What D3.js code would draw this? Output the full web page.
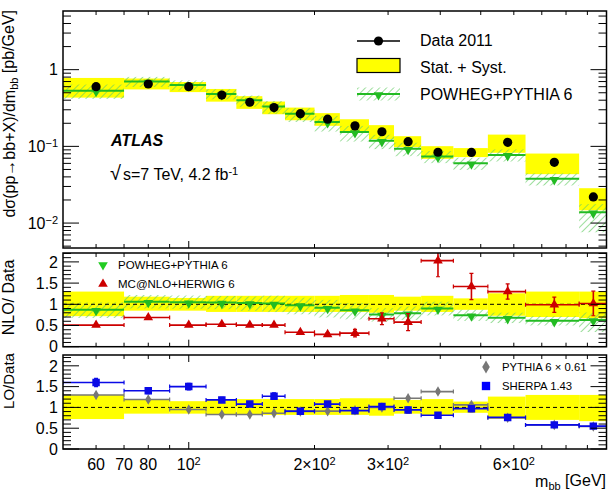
<!DOCTYPE html>
<html>
<head>
<meta charset="utf-8">
<script src="https://cdn.jsdelivr.net/npm/d3@7"></script>
<style>
body { margin: 0; background: #fff; }
text { font-family: "Liberation Sans", Arial, Helvetica, sans-serif; fill: #000; }
</style>
</head>
<body>
<svg id="chart" width="615" height="495"></svg>
<script>
// bin edges of m_bb [GeV]
var binEdges = [50, 70, 90, 110, 130, 150, 170, 200, 230, 270, 310, 360, 430, 520, 640, 860, 1000];

// top panel: cross section [pb/GeV]
var dataValues   = [0.60, 0.65, 0.60, 0.467, 0.376, 0.32, 0.267, 0.226, 0.185, 0.155, 0.115, 0.0838, 0.0833, 0.113, 0.062, 0.0219];
var dataErrUp    = [0.30, 0.18, 0.15, 0.20, 0.20, 0.20, 0.20, 0.20, 0.22, 0.22, 0.18, 0.20, 0.14, 0.26, 0.30, 0.30];
var dataErrDown  = [0.28, 0.15, 0.15, 0.18, 0.18, 0.18, 0.18, 0.18, 0.18, 0.20, 0.15, 0.18, 0.13, 0.27, 0.30, 0.33];
var powhegValues = [0.533, 0.70, 0.63, 0.482, 0.40, 0.33, 0.267, 0.208, 0.154, 0.118, 0.093, 0.0737, 0.0603, 0.0774, 0.0377, 0.0138];
var powhegErrUp  = [0.20, 0.15, 0.15, 0.15, 0.15, 0.18, 0.18, 0.20, 0.20, 0.20, 0.20, 0.18, 0.18, 0.18, 0.18, 0.28];
var powhegErrDown= [0.22, 0.15, 0.15, 0.15, 0.18, 0.20, 0.22, 0.25, 0.25, 0.22, 0.20, 0.18, 0.18, 0.18, 0.18, 0.45];

// middle panel: NLO / Data
var powhegRatio  = [0.87, 1.06, 1.05, 1.04, 1.03, 1.02, 0.98, 0.92, 0.86, 0.76, 0.79, 0.90, 0.74, 0.68, 0.61, 0.63];
var mcnloRatio   = [0.51, 0.69, 0.51, 0.53, 0.51, 0.51, 0.34, 0.29, 0.32, 0.66, 0.58, 2.03, 1.42, 1.30, 0.99, 1.02];
var mcnloErr     = [0.02, 0.03, 0.02, 0.03, 0.03, 0.03, 0.03, 0.04, 0.09, 0.14, 0.20, 0.38, 0.31, 0.18, 0.18, 0.29];

// bottom panel: LO / Data
var pythiaRatio  = [1.30, 1.19, 0.95, 0.83, 0.83, 0.86, 0.90, 0.91, 0.93, 1.00, 1.22, 1.38, 1.06, 0.75, 0.58, 0.54];
var pythiaErr    = [0.03, 0.03, 0.03, 0.02, 0.02, 0.02, 0.02, 0.02, 0.02, 0.03, 0.03, 0.04, 0.04, 0.03, 0.03, 0.03];
var sherpaRatio  = [1.60, 1.40, 1.50, 1.18, 1.08, 1.27, 0.91, 1.08, 0.92, 1.02, 0.94, 0.81, 0.97, 0.76, 0.58, 0.55];
var sherpaErr    = [0.10, 0.07, 0.08, 0.06, 0.06, 0.08, 0.04, 0.06, 0.05, 0.07, 0.07, 0.06, 0.07, 0.04, 0.04, 0.05];

var xTickValues = [60, 70, 80, 100, 200, 300, 600];
var xTickLabels = ["60", "70", "80", "10^2", "2\u00d710^2", "3\u00d710^2", "6\u00d710^2"];
var yTopTickValues = [0.01, 0.1, 1];
var yTopTickLabels = ["10^\u22122", "10^\u22121", "1"];
var ratioTickValues = [0, 0.5, 1, 1.5, 2];
var ratioTickLabels = ["0", "0.5", "1", "1.5", "2"];

var svg = d3.select("#chart");
var left = 63, right = 606.5;
var topP = [11, 248], midP = [253, 346.7], botP = [355, 449];

var x = d3.scaleLog().domain([50, 1000]).range([left, right]);
var yTop = d3.scaleLog().domain([0.00473, 5.82]).range([topP[1], topP[0]]);
var yMid = d3.scaleLinear().domain([0, 2.21]).range([midP[1], midP[0]]);
var yBot = d3.scaleLinear().domain([0, 2.26]).range([botP[1], botP[0]]);

var bins = d3.range(binEdges.length - 1).map(function(i) {
    return { i: i, lo: binEdges[i], hi: binEdges[i + 1], c: (binEdges[i] + binEdges[i + 1]) / 2 };
});

var GREEN = "#22bb22", HATCH = "#66cc66", YELLOW = "#ffff00", RED = "#cc0000", BLUE = "#0a0ae6", GREY = "#777777";

var defs = svg.append("defs");
var pat = defs.append("pattern")
    .attr("id", "hatch")
    .attr("patternUnits", "userSpaceOnUse")
    .attr("width", 5).attr("height", 5)
    .attr("patternTransform", "rotate(45)");
pat.append("line")
    .attr("x1", 0).attr("y1", 0).attr("x2", 0).attr("y2", 5)
    .attr("stroke", HATCH).attr("stroke-width", 1.3);

function addClip(id, p) {
    defs.append("clipPath").attr("id", id)
        .append("rect").attr("x", left).attr("y", p[0]).attr("width", right - left).attr("height", p[1] - p[0]);
}
addClip("clipTop", topP);
addClip("clipMid", midP);
addClip("clipBot", botP);

// text with ^sup support
function richText(sel, label, supSize) {
    var parts = label.split("^");
    sel.append("tspan").text(parts[0]);
    if (parts.length > 1) {
        sel.append("tspan").attr("dy", "-0.45em").attr("font-size", supSize).text(parts[1]);
    }
}

function drawFrame(p, yScale, yMajor, yMinor, yLabels, yLabelVals, showX) {
    var g = svg.append("g");
    var y0 = p[0], y1 = p[1];
    // x ticks top and bottom
    var xMinor = [60, 70, 80, 90, 200, 300, 400, 500, 600, 700, 800, 900];
    xMinor.forEach(function(v) {
        g.append("line").attr("x1", x(v)).attr("x2", x(v)).attr("y1", y1).attr("y2", y1 - 4).attr("stroke", "#000");
        g.append("line").attr("x1", x(v)).attr("x2", x(v)).attr("y1", y0).attr("y2", y0 + 4).attr("stroke", "#000");
    });
    [100].forEach(function(v) {
        g.append("line").attr("x1", x(v)).attr("x2", x(v)).attr("y1", y1).attr("y2", y1 - 7).attr("stroke", "#000");
        g.append("line").attr("x1", x(v)).attr("x2", x(v)).attr("y1", y0).attr("y2", y0 + 7).attr("stroke", "#000");
    });
    yMajor.forEach(function(v) {
        g.append("line").attr("x1", left).attr("x2", left + 16).attr("y1", yScale(v)).attr("y2", yScale(v)).attr("stroke", "#000");
        g.append("line").attr("x1", right).attr("x2", right - 16).attr("y1", yScale(v)).attr("y2", yScale(v)).attr("stroke", "#000");
    });
    yMinor.forEach(function(v) {
        g.append("line").attr("x1", left).attr("x2", left + 8).attr("y1", yScale(v)).attr("y2", yScale(v)).attr("stroke", "#000");
        g.append("line").attr("x1", right).attr("x2", right - 8).attr("y1", yScale(v)).attr("y2", yScale(v)).attr("stroke", "#000");
    });
    yLabelVals.forEach(function(v, k) {
        var t = g.append("text")
            .attr("x", left - 5).attr("y", yScale(v)).attr("dy", "0.36em")
            .attr("text-anchor", "end").style("font-size", "16px");
        richText(t, yLabels[k], "11px");
    });
    if (showX) {
        xTickValues.forEach(function(v, k) {
            var t = g.append("text")
                .attr("x", x(v)).attr("y", 470)
                .attr("text-anchor", "middle").style("font-size", "16px");
            richText(t, xTickLabels[k], "11px");
        });
    }
    g.append("rect").attr("x", left).attr("y", y0).attr("width", right - left).attr("height", y1 - y0)
        .attr("fill", "none").attr("stroke", "#000").attr("stroke-width", 1.5);
}

// ---------- top panel ----------
var gTop = svg.append("g").attr("clip-path", "url(#clipTop)");

gTop.selectAll("rect.err").data(bins).enter().append("rect")
    .attr("x", function(d) { return x(d.lo); })
    .attr("width", function(d) { return x(d.hi) - x(d.lo); })
    .attr("y", function(d) { return yTop(dataValues[d.i] * (1 + dataErrUp[d.i])); })
    .attr("height", function(d) { return yTop(dataValues[d.i] * (1 - dataErrDown[d.i])) - yTop(dataValues[d.i] * (1 + dataErrUp[d.i])); })
    .attr("fill", YELLOW);

gTop.selectAll("rect.pw").data(bins).enter().append("rect")
    .attr("x", function(d) { return x(d.lo); })
    .attr("width", function(d) { return x(d.hi) - x(d.lo); })
    .attr("y", function(d) { return yTop(powhegValues[d.i] * (1 + powhegErrUp[d.i])); })
    .attr("height", function(d) { return yTop(powhegValues[d.i] * (1 - powhegErrDown[d.i])) - yTop(powhegValues[d.i] * (1 + powhegErrUp[d.i])); })
    .attr("fill", "url(#hatch)");

gTop.selectAll("line.pw").data(bins).enter().append("line")
    .attr("x1", function(d) { return x(d.lo); })
    .attr("x2", function(d) { return x(d.hi); })
    .attr("y1", function(d) { return yTop(powhegValues[d.i]); })
    .attr("y2", function(d) { return yTop(powhegValues[d.i]); })
    .attr("stroke", GREEN).attr("stroke-width", 2);

var triDown = d3.symbol().type(d3.symbolTriangle).size(40);
gTop.selectAll("path.pw").data(bins).enter().append("path")
    .attr("d", triDown)
    .attr("transform", function(d) { return "translate(" + x(d.c) + "," + (yTop(powhegValues[d.i]) + 1) + ") rotate(180)"; })
    .attr("fill", GREEN);

gTop.selectAll("circle").data(bins).enter().append("circle")
    .attr("cx", function(d) { return x(d.c); })
    .attr("cy", function(d) { return yTop(dataValues[d.i]); })
    .attr("r", 4.6)
    .attr("fill", "#000");

var topMinor = [];
[0.001, 0.01, 0.1, 1].forEach(function(dec) {
    for (var k = 2; k <= 9; k++) {
        var v = dec * k;
        if (v > yTop.domain()[0] && v < yTop.domain()[1]) topMinor.push(v);
    }
});
drawFrame(topP, yTop, yTopTickValues, topMinor, yTopTickLabels, yTopTickValues, false);

// legend top
var lg = svg.append("g");
lg.append("line").attr("x1", 357).attr("x2", 400).attr("y1", 41).attr("y2", 41).attr("stroke", "#000").attr("stroke-width", 1.5);
lg.append("circle").attr("cx", 378.5).attr("cy", 41).attr("r", 4.6).attr("fill", "#000");
lg.append("rect").attr("x", 357).attr("y", 58.5).attr("width", 43).attr("height", 14)
    .attr("fill", YELLOW).attr("stroke", "#000").attr("stroke-width", 1.2);
lg.append("rect").attr("x", 357).attr("y", 87.5).attr("width", 43).attr("height", 13).attr("fill", "url(#hatch)");
lg.append("line").attr("x1", 357).attr("x2", 400).attr("y1", 94).attr("y2", 94).attr("stroke", GREEN).attr("stroke-width", 2);
lg.append("path").attr("d", triDown).attr("transform", "translate(378.5,95) rotate(180)").attr("fill", GREEN);
lg.append("text").attr("x", 420).attr("y", 46).style("font-size", "16px").text("Data 2011");
lg.append("text").attr("x", 420).attr("y", 73).style("font-size", "16px").text("Stat. + Syst.");
lg.append("text").attr("x", 420).attr("y", 99.5).style("font-size", "16px").text("POWHEG+PYTHIA 6");

svg.append("text").attr("x", 111).attr("y", 145.5)
    .style("font-size", "16px").style("font-weight", "bold").style("font-style", "italic").text("ATLAS");
var en = svg.append("text").attr("x", 110).attr("y", 179.5).style("font-size", "16px");
en.append("tspan").style("font-size", "20px").text("\u221a");
en.append("tspan").attr("dx", 2).text("s=7 TeV, 4.2 fb");
en.append("tspan").attr("dy", "-0.45em").style("font-size", "11px").text("-1");

// ---------- middle panel ----------
var gMid = svg.append("g").attr("clip-path", "url(#clipMid)");
gMid.selectAll("rect.err").data(bins).enter().append("rect")
    .attr("x", function(d) { return x(d.lo); })
    .attr("width", function(d) { return x(d.hi) - x(d.lo); })
    .attr("y", function(d) { return yMid(1 + dataErrUp[d.i]); })
    .attr("height", function(d) { return yMid(1 - dataErrDown[d.i]) - yMid(1 + dataErrUp[d.i]); })
    .attr("fill", YELLOW);
gMid.selectAll("rect.pw").data(bins).enter().append("rect")
    .attr("x", function(d) { return x(d.lo); })
    .attr("width", function(d) { return x(d.hi) - x(d.lo); })
    .attr("y", function(d) { return yMid(powhegRatio[d.i] * (1 + powhegErrUp[d.i])); })
    .attr("height", function(d) { return yMid(powhegRatio[d.i] * (1 - powhegErrDown[d.i])) - yMid(powhegRatio[d.i] * (1 + powhegErrUp[d.i])); })
    .attr("fill", "url(#hatch)");
gMid.append("line").attr("x1", left).attr("x2", right).attr("y1", yMid(1)).attr("y2", yMid(1))
    .attr("stroke", "#000").attr("stroke-dasharray", "4,3");
gMid.selectAll("line.pw").data(bins).enter().append("line")
    .attr("x1", function(d) { return x(d.lo); })
    .attr("x2", function(d) { return x(d.hi); })
    .attr("y1", function(d) { return yMid(powhegRatio[d.i]); })
    .attr("y2", function(d) { return yMid(powhegRatio[d.i]); })
    .attr("stroke", GREEN).attr("stroke-width", 2);
gMid.selectAll("path.pw").data(bins).enter().append("path")
    .attr("d", triDown)
    .attr("transform", function(d) { return "translate(" + x(d.c) + "," + (yMid(powhegRatio[d.i]) + 1) + ") rotate(180)"; })
    .attr("fill", GREEN);

function errorPoints(g, yScale, vals, errs, color, symbolGen, cls) {
    var sel = g.selectAll("g." + cls).data(bins).enter().append("g").attr("class", cls);
    sel.append("line")
        .attr("x1", function(d) { return x(d.lo); })
        .attr("x2", function(d) { return x(d.hi); })
        .attr("y1", function(d) { return yScale(vals[d.i]); })
        .attr("y2", function(d) { return yScale(vals[d.i]); })
        .attr("stroke", color).attr("stroke-width", 1.6);
    [function(d) { return x(d.lo); }, function(d) { return x(d.hi); }].forEach(function(fx) {
        sel.append("line")
            .attr("x1", fx).attr("x2", fx)
            .attr("y1", function(d) { return yScale(vals[d.i]) - 2; })
            .attr("y2", function(d) { return yScale(vals[d.i]) + 2; })
            .attr("stroke", color).attr("stroke-width", 1.2);
    });
    sel.append("line")
        .attr("x1", function(d) { return x(d.c); })
        .attr("x2", function(d) { return x(d.c); })
        .attr("y1", function(d) { return yScale(vals[d.i] + errs[d.i]); })
        .attr("y2", function(d) { return yScale(vals[d.i] - errs[d.i]); })
        .attr("stroke", color).attr("stroke-width", 1.6);
    [1, -1].forEach(function(s) {
        sel.append("line")
            .attr("x1", function(d) { return x(d.c) - 2; })
            .attr("x2", function(d) { return x(d.c) + 2; })
            .attr("y1", function(d) { return yScale(vals[d.i] + s * errs[d.i]); })
            .attr("y2", function(d) { return yScale(vals[d.i] + s * errs[d.i]); })
            .attr("stroke", color).attr("stroke-width", 1.2);
    });
    sel.append("path")
        .attr("d", symbolGen)
        .attr("transform", function(d) { return "translate(" + x(d.c) + "," + yScale(vals[d.i]) + ")"; })
        .attr("fill", color);
}

var triUp = d3.symbol().type(d3.symbolTriangle).size(40);
errorPoints(gMid, yMid, mcnloRatio, mcnloErr, RED, triUp, "mc");

var ratioMinor = d3.range(0, 2.21, 0.1).filter(function(v) {
    return Math.abs(v * 2 - Math.round(v * 2)) > 0.01;
});
drawFrame(midP, yMid, ratioTickValues, ratioMinor, ratioTickLabels, ratioTickValues, false);

svg.append("path").attr("d", triDown).attr("transform", "translate(103,265) rotate(180)").attr("fill", "#22cc22");
svg.append("path").attr("d", triUp).attr("transform", "translate(103,284)").attr("fill", RED);
svg.append("text").attr("x", 118).attr("y", 268.5).style("font-size", "11.5px").text("POWHEG+PYTHIA 6");
svg.append("text").attr("x", 118).attr("y", 287.5).style("font-size", "11.5px").text("MC@NLO+HERWIG 6");

// ---------- bottom panel ----------
var gBot = svg.append("g").attr("clip-path", "url(#clipBot)");
gBot.selectAll("rect.err").data(bins).enter().append("rect")
    .attr("x", function(d) { return x(d.lo); })
    .attr("width", function(d) { return x(d.hi) - x(d.lo); })
    .attr("y", function(d) { return yBot(1 + dataErrUp[d.i]); })
    .attr("height", function(d) { return yBot(1 - dataErrDown[d.i]) - yBot(1 + dataErrUp[d.i]); })
    .attr("fill", YELLOW);
gBot.append("line").attr("x1", left).attr("x2", right).attr("y1", yBot(1)).attr("y2", yBot(1))
    .attr("stroke", "#000").attr("stroke-dasharray", "4,3");

var diamond = d3.symbol().type(d3.symbolDiamond).size(32);
var square = d3.symbol().type(d3.symbolSquare).size(56);
errorPoints(gBot, yBot, pythiaRatio, pythiaErr, GREY, diamond, "py");
errorPoints(gBot, yBot, sherpaRatio, sherpaErr, BLUE, square, "sh");

drawFrame(botP, yBot, ratioTickValues, ratioMinor, ratioTickLabels, ratioTickValues, true);

svg.append("path").attr("d", d3.symbol().type(d3.symbolDiamond).size(50)).attr("transform", "translate(486,367)").attr("fill", GREY);
svg.append("path").attr("d", d3.symbol().type(d3.symbolSquare).size(70)).attr("transform", "translate(486,386)").attr("fill", "#0000ff");
svg.append("text").attr("x", 502).attr("y", 371).style("font-size", "11.3px").text("PYTHIA 6 \u00d7 0.61");
svg.append("text").attr("x", 502).attr("y", 389.5).style("font-size", "11.3px").text("SHERPA 1.43");

// ---------- axis titles ----------
var xt = svg.append("text").attr("x", 606).attr("y", 487).attr("text-anchor", "end").style("font-size", "16px");
xt.append("tspan").text("m");
xt.append("tspan").attr("dy", "0.3em").style("font-size", "11px").text("bb");
xt.append("tspan").attr("dy", "-0.3em").text(" [GeV]");

var yt = svg.append("text").attr("transform", "translate(15,10) rotate(-90)").attr("text-anchor", "end").style("font-size", "16px");
yt.append("tspan").text("d\u03c3(pp\u2192bb+X)/dm");
yt.append("tspan").attr("dy", "0.3em").style("font-size", "11px").text("bb");
yt.append("tspan").attr("dy", "-0.3em").text(" [pb/GeV]");

svg.append("text").attr("transform", "translate(14,297.5) rotate(-90)").attr("text-anchor", "middle")
    .style("font-size", "16px").text("NLO/ Data");
svg.append("text").attr("transform", "translate(14,381) rotate(-90)").attr("text-anchor", "middle")
    .style("font-size", "15px").text("LO/Data");
</script>
</body>
</html>
